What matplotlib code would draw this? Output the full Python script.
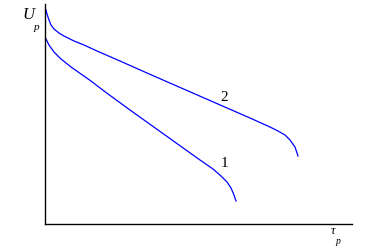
import matplotlib
matplotlib.use("Agg")
import matplotlib.pyplot as plt

# curve 2 (upper)
x2 = [1, 2, 4, 6, 9, 14, 19, 29, 39, 52, 75, 102, 150, 205, 225, 233, 240, 245, 250, 253]
y2 = [214, 210, 204, 199, 195, 191, 188, 183, 179, 173, 163, 151, 130, 106, 97, 93, 89, 84, 77, 68]
# curve 1 (lower)
x1 = [1, 4, 9, 16, 26, 36, 46, 59, 85, 155, 168, 176, 182, 186, 189, 191]
y1 = [185, 179, 172, 165, 157, 150, 143, 133, 114, 64, 55, 48, 42, 36, 29, 23]

plt.rcParams['font.family'] = ['Liberation Serif', 'DejaVu Serif']

fig = plt.figure(figsize=(3.74, 2.49), dpi=100)
ax = fig.add_axes([45/374, 25/249, 307/374, 220/249])
ax.plot(x2, y2, color="#0000ff", lw=0.9)
ax.plot(x1, y1, color="#0000ff", lw=0.9)
ax.set_xlim(0, 307)
ax.set_ylim(0, 220)
for s in ["top", "right"]:
    ax.spines[s].set_visible(False)
for s in ["left", "bottom"]:
    ax.spines[s].set_linewidth(1.0)
ax.set_xticks([])
ax.set_yticks([])

ax.text(179, 127, "2", fontsize=11, ha="center", va="center")
ax.text(179, 61, "1", fontsize=11, ha="center", va="center")

# axis labels
fig.text(22/374, 1 - 15/249, "U", fontsize=12, style="italic", ha="left", va="center")
fig.text(34/374, 1 - 27/249, "p", fontsize=8, style="italic", ha="left", va="center")
fig.text(331/374, 1 - 231/249, "τ", fontsize=9, style="italic", ha="left", va="center")
fig.text(336/374, 1 - 241/249, "p", fontsize=7, style="italic", ha="left", va="center")

fig.savefig("out.png", dpi=100)
